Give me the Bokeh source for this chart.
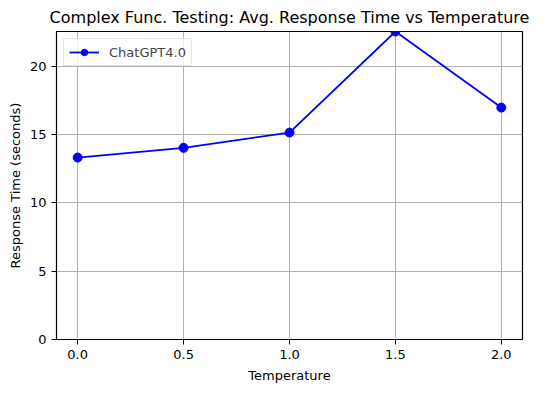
from bokeh.plotting import figure
from bokeh.models import Range1d, FixedTicker, CustomJSTickFormatter, Legend
from bokeh.embed import file_html
from bokeh.resources import INLINE

temperatures = [0.0, 0.5, 1.0, 1.5, 2.0]
response_times = [13.32, 14.03, 15.15, 22.55, 16.98]
x_ticks = [0.0, 0.5, 1.0, 1.5, 2.0]
y_ticks = [0, 5, 10, 15, 20]
series_name = "ChatGPT4.0"

FONT = "DejaVu Sans"

p = figure(width=528, height=385, output_backend="svg", toolbar_location=None,
           x_range=Range1d(-0.1, 2.1), y_range=Range1d(0, max(response_times)),
           min_border_left=40, min_border_right=10, min_border_top=24, min_border_bottom=38,
           margin=(0, 0, 0, 4))

p.title.text = "Complex Func. Testing: Avg. Response Time vs Temperature"
p.title.align = "center"
p.title.text_font = FONT
p.title.text_font_size = "16px"
p.title.text_font_style = "normal"
p.title.text_color = "black"

p.outline_line_color = "black"
p.outline_line_width = 1.2
p.outline_line_alpha = 1

for ax in (p.xaxis[0], p.yaxis[0]):
    ax.axis_line_color = None
    ax.major_tick_line_color = "black"
    ax.major_tick_out = 5
    ax.major_tick_in = 0
    ax.minor_tick_line_color = None
    ax.major_label_text_font = FONT
    ax.major_label_text_font_size = "13px"
    ax.major_label_text_color = "black"
    ax.axis_label_text_font = FONT
    ax.axis_label_text_font_size = "13px"
    ax.axis_label_text_font_style = "normal"
    ax.axis_label_text_color = "black"

p.xaxis.ticker = FixedTicker(ticks=x_ticks)
p.xaxis.formatter = CustomJSTickFormatter(code="return tick.toFixed(1);")
p.yaxis.ticker = FixedTicker(ticks=y_ticks)
p.xaxis.axis_label = "Temperature"
p.yaxis.axis_label = "Response Time (seconds)"
p.xaxis.major_label_standoff = 5
p.yaxis.major_label_standoff = 5
p.xaxis.axis_label_standoff = 6
p.yaxis.axis_label_standoff = 4

p.xgrid.ticker = FixedTicker(ticks=x_ticks)
p.ygrid.ticker = FixedTicker(ticks=y_ticks)
p.grid.grid_line_color = "#b0b0b0"
p.grid.grid_line_width = 1

ln = p.line(temperatures, response_times, line_color="#0000ff", line_width=1.8)
sc = p.scatter(temperatures, response_times, size=9, fill_color="#0000ff", line_color="#0000ff")

legend = Legend(items=[(series_name, [ln, sc])], location="top_left")
legend.label_text_font = FONT
legend.label_text_font_size = "13px"
legend.border_line_color = "#cccccc"
legend.border_line_width = 1
legend.background_fill_alpha = 0.8
legend.padding = 5
legend.margin = 7
legend.spacing = 0
legend.glyph_width = 30
legend.label_standoff = 10
legend.label_height = 16
legend.glyph_height = 16
p.add_layout(legend)

open("out.html", "w").write(file_html(p, INLINE))
